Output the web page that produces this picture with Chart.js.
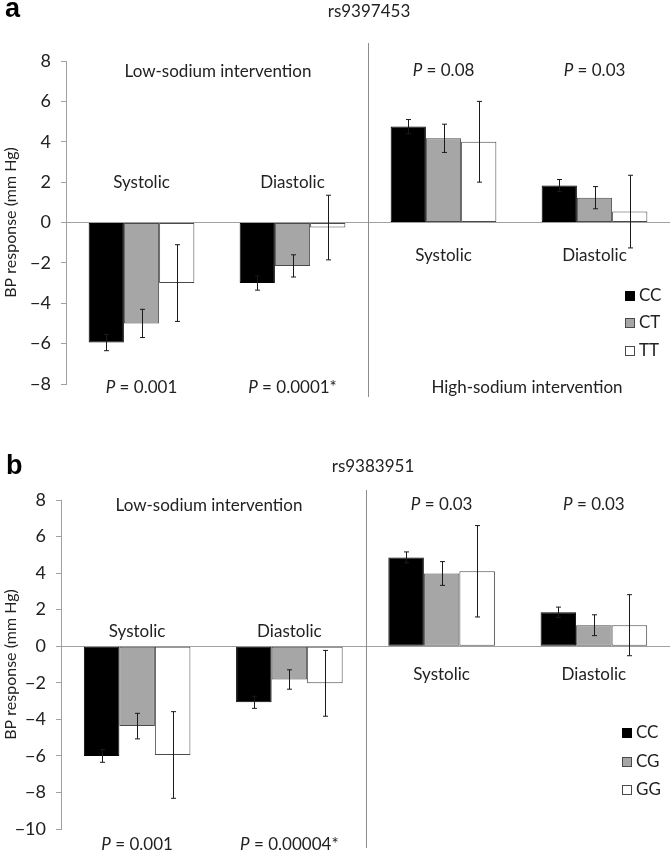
<!DOCTYPE html>
<html>
<head>
<meta charset="utf-8">
<script src="https://cdn.jsdelivr.net/npm/chart.js@4/dist/chart.umd.min.js"></script>
<style>
  body { margin: 0; background: #fff; }
  #wrap { position: relative; width: 670px; height: 852px; }
  #chartA { position: absolute; left: 0; top: 0; }
  #chartB { position: absolute; left: 0; top: 420px; }
</style>
</head>
<body>
<div id="wrap">
  <canvas id="chartA" width="670" height="420"></canvas>
  <canvas id="chartB" width="670" height="432"></canvas>
</div>
<script>
// groups: low-sodium systolic/diastolic, high-sodium systolic/diastolic
const groups = ['Systolic', 'Diastolic', 'Systolic', 'Diastolic'];

// panel a - rs9397453
const snpA = 'rs9397453';
const genotypesA = ['CC', 'CT', 'TT'];
const meanA_CC = [-5.95, -3.0, 4.75, 1.83];
const meanA_CT = [-5.0, -2.15, 4.17, 1.23];
const meanA_TT = [-3.0, -0.25, 4.0, 0.54];
const errA_CC = [0.4, 0.35, 0.35, 0.3];
const errA_CT = [0.7, 0.55, 0.7, 0.55];
const errA_TT = [1.9, 1.6, 2.0, 1.8];
const pLowA = ['0.001', '0.0001*'];
const pHighA = ['0.08', '0.03'];
const ticksA = [8, 6, 4, 2, 0, -2, -4, -6, -8];

// panel b - rs9383951
const snpB = 'rs9383951';
const genotypesB = ['CC', 'CG', 'GG'];
const meanB_CC = [-6.0, -3.07, 4.86, 1.86];
const meanB_CG = [-4.37, -1.82, 3.98, 1.15];
const meanB_GG = [-5.95, -2.03, 4.1, 1.15];
const errB_CC = [0.35, 0.33, 0.3, 0.28];
const errB_CG = [0.7, 0.53, 0.65, 0.57];
const errB_GG = [2.37, 1.8, 2.5, 1.67];
const pLowB = ['0.001', '0.00004*'];
const pHighB = ['0.03', '0.03'];
const ticksB = [8, 6, 4, 2, 0, -2, -4, -6, -8, -10];

const fills = ['#000000', '#a6a6a6', '#ffffff'];
const borders = ['#000000', '#4a4a4a', '#4a4a4a'];
const FONT = 'Lato';
const TXT = '#222';
const AXIS = '#a0a0a0';

function drawP(ctx, value, x, y) {
  const it = 'italic 17px ' + FONT;
  const nm = '17px ' + FONT;
  ctx.font = it;
  const wP = ctx.measureText('P').width;
  ctx.font = nm;
  const rest = ' = ' + value;
  const wR = ctx.measureText(rest).width;
  const x0 = x - (wP + wR) / 2;
  ctx.textAlign = 'left';
  ctx.font = it;
  ctx.fillText('P', x0, y);
  ctx.font = nm;
  ctx.fillText(rest, x0 + wP, y);
}

const panelPlugin = {
  id: 'panel',
  afterDatasetsDraw(chart, args, o) {
    const ctx = chart.ctx;
    const xs = chart.scales.x, ys = chart.scales.y;
    ctx.save();

    // error bars
    ctx.strokeStyle = '#1a1a1a';
    ctx.lineWidth = 1;
    chart.data.datasets.forEach((ds, i) => {
      chart.getDatasetMeta(i).data.forEach((bar, j) => {
        const x = Math.round(bar.x) + 0.5;
        const y1 = ys.getPixelForValue(ds.data[j] + ds.errors[j]);
        const y2 = ys.getPixelForValue(ds.data[j] - ds.errors[j]);
        ctx.beginPath();
        ctx.moveTo(x, y1); ctx.lineTo(x, y2);
        ctx.moveTo(x - 2.5, y1); ctx.lineTo(x + 2.5, y1);
        ctx.moveTo(x - 2.5, y2); ctx.lineTo(x + 2.5, y2);
        ctx.stroke();
      });
    });

    // divider between low- and high-sodium parts
    const dx = Math.round((xs.getPixelForValue(1) + xs.getPixelForValue(2)) / 2) + 0.5;
    ctx.strokeStyle = '#8c8c8c';
    ctx.beginPath();
    ctx.moveTo(dx, o.divTop); ctx.lineTo(dx, o.divBottom);
    ctx.stroke();

    // texts
    ctx.fillStyle = TXT;
    ctx.textBaseline = 'middle';
    ctx.textAlign = 'center';
    ctx.font = '17px ' + FONT;
    ctx.fillText(o.snp, o.snpX, o.snpY);
    ctx.fillText('Low-sodium intervention', o.lowX, o.lowY);
    if (o.highTitle) ctx.fillText('High-sodium intervention', o.highX, o.highY);
    groups.forEach((g, i) => {
      ctx.font = '17px ' + FONT;
      ctx.textAlign = 'center';
      ctx.fillText(g, xs.getPixelForValue(i), i < 2 ? o.lowLabelY : o.highLabelY);
    });
    o.pLow.forEach((p, i) => drawP(ctx, p, xs.getPixelForValue(i), o.pLowY));
    o.pHigh.forEach((p, i) => drawP(ctx, p, xs.getPixelForValue(i + 2), o.pHighY));

    // panel letter
    ctx.textAlign = 'left';
    ctx.textBaseline = 'alphabetic';
    ctx.fillStyle = '#000';
    ctx.font = 'bold 27px Arial, "Liberation Sans"';
    ctx.fillText(o.letter, o.letterX, o.letterY);

    // legend
    ctx.textBaseline = 'middle';
    chart.data.datasets.forEach((ds, i) => {
      const y = o.legendY[i];
      ctx.fillStyle = ds.backgroundColor;
      ctx.strokeStyle = ds.borderColor;
      ctx.fillRect(o.legendX, y - 5, 10, 10);
      ctx.strokeRect(o.legendX + 0.5, y - 4.5, 9, 9);
      ctx.fillStyle = TXT;
      ctx.font = '17px ' + FONT;
      ctx.fillText(ds.label, o.legendX + 14, y);
    });
    ctx.restore();
  }
};

function makeChart(id, genotypes, means, errs, ticks, pad, axisWidth, opts) {
  const ctx = document.getElementById(id).getContext('2d');
  return new Chart(ctx, {
    type: 'bar',
    data: {
      labels: groups,
      datasets: genotypes.map((g, i) => ({
        label: g,
        data: means[i],
        errors: errs[i],
        backgroundColor: fills[i],
        borderColor: borders[i],
        borderWidth: 1,
        borderSkipped: false,
        barPercentage: 1.0,
        categoryPercentage: 0.70
      }))
    },
    options: {
      responsive: false,
      animation: false,
      layout: { padding: { top: pad[0], right: 0, bottom: pad[1], left: 0 } },
      plugins: {
        legend: { display: false },
        tooltip: { enabled: false },
        panel: opts
      },
      scales: {
        x: { display: false },
        y: {
          min: Math.min(...ticks),
          max: Math.max(...ticks),
          ticks: {
            stepSize: ticks[0] - ticks[1],
            color: TXT,
            padding: 10,
            font: { family: FONT, size: 18 },
            callback: v => String(v).replace('-', '\u2212')
          },
          grid: {
            color: c => (c.tick && c.tick.value === 0 ? AXIS : 'transparent'),
            tickColor: AXIS,
            tickLength: 5
          },
          border: { display: true, color: AXIS },
          title: {
            display: true,
            text: 'BP response (mm Hg)',
            color: TXT,
            font: { family: FONT, size: 16 },
            padding: { top: 1, bottom: 0 }
          },
          afterFit: s => { s.width = axisWidth; }
        }
      }
    },
    plugins: [panelPlugin]
  });
}

makeChart('chartA', genotypesA,
  [meanA_CC, meanA_CT, meanA_TT], [errA_CC, errA_CT, errA_TT], ticksA,
  [61, 36], 66, {
    snp: snpA, snpX: 369, snpY: 12,
    lowX: 218, lowY: 72, highTitle: true, highX: 527, highY: 388,
    lowLabelY: 183, highLabelY: 256, pLowY: 388, pHighY: 71,
    pLow: pLowA, pHigh: pHighA,
    letter: 'a', letterX: 5, letterY: 17,
    legendX: 625, legendY: [296, 323, 351],
    divTop: 43, divBottom: 397
  });

makeChart('chartB', genotypesB,
  [meanB_CC, meanB_CG, meanB_GG], [errB_CC, errB_CG, errB_GG], ticksB,
  [80, 23], 61, {
    snp: snpB, snpX: 373, snpY: 47,
    lowX: 209, lowY: 86, highTitle: false,
    lowLabelY: 212, highLabelY: 255, pLowY: 425, pHighY: 85,
    pLow: pLowB, pHigh: pHighB,
    letter: 'b', letterX: 6, letterY: 54,
    legendX: 622, legendY: [313, 342, 370],
    divTop: 70, divBottom: 428
  });
</script>
</body>
</html>
